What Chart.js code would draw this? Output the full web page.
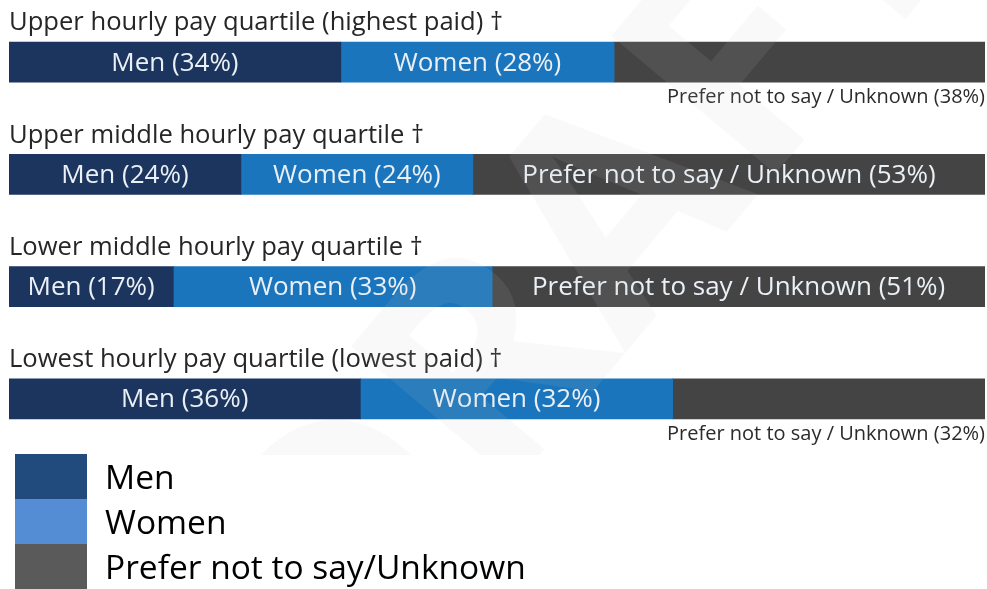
<!DOCTYPE html>
<html>
<head>
<meta charset="utf-8">
<script src="https://cdn.jsdelivr.net/npm/chart.js@4"></script>
<style>
  body { margin: 0; background: #fff; width: 987px; height: 589px; overflow: hidden; font-family: "Open Sans", sans-serif; }
  #wrap { position: absolute; left: 0; top: 0; width: 987px; height: 455px; }
  #legend { position: absolute; left: 15px; top: 454px; }
  .leg-row { display: flex; align-items: center; height: 45px; }
  .leg-box { width: 72px; height: 45px; }
  .leg-text { margin-left: 18px; font-size: 33.5px; color: #000; line-height: 45px; }
</style>
</head>
<body>
<div id="wrap"><canvas id="payChart"></canvas></div>
<div id="legend"></div>
<script>
// quartile titles, top to bottom
const quartiles = [
    "Upper hourly pay quartile (highest paid) \u2020",
    "Upper middle hourly pay quartile \u2020",
    "Lower middle hourly pay quartile \u2020",
    "Lowest hourly pay quartile (lowest paid) \u2020"
];
const seriesNames = ["Men", "Women", "Prefer not to say / Unknown"];
const legendNames = ["Men", "Women", "Prefer not to say/Unknown"];
// percentages as printed on the chart
const men = [34, 24, 17, 36];
const women = [28, 24, 33, 32];
const unknown = [38, 53, 51, 32];
// rows where the unknown label sits under the bar
const unknownBelow = [true, false, false, true];

const barColors = ["#1c355e", "#1b75bc", "#444444"];
const legendColors = ["#214a7d", "#548dd4", "#5a5a5a"];

// rows adding up to 101% get scaled so every bar fills the width
const totals = men.map((m, i) => m + women[i] + unknown[i]);
const share = arr => arr.map((v, i) => v / totals[i] * 100);
const raw = [men, women, unknown];

const labelPlugin = {
    id: "labels",
    afterDraw(chart) {
        const ctx = chart.ctx;
        const area = chart.chartArea;
        ctx.save();
        // quartile titles above bars
        const meta0 = chart.getDatasetMeta(0);
        ctx.font = "25.6px 'Open Sans'";
        ctx.fillStyle = "#262626";
        ctx.textAlign = "left";
        ctx.textBaseline = "middle";
        meta0.data.forEach((bar, i) => {
            ctx.fillText(quartiles[i], area.left, bar.y - bar.height / 2 - 19);
        });
        chart.data.datasets.forEach((ds, d) => {
            const meta = chart.getDatasetMeta(d);
            meta.data.forEach((bar, i) => {
                const txt = seriesNames[d] + " (" + raw[d][i] + "%)";
                if (d == 2 && unknownBelow[i]) {
                    ctx.font = "20px 'Open Sans'";
                    ctx.fillStyle = "#2b2b2b";
                    ctx.textAlign = "right";
                    ctx.fillText(txt, area.right, bar.y + bar.height / 2 + 15);
                } else {
                    ctx.font = "26px 'Open Sans'";
                    ctx.fillStyle = "#eaf0f6";
                    ctx.textAlign = "center";
                    ctx.fillText(txt, (bar.x + bar.base) / 2, bar.y + 1);
                }
            });
        });
        // faint draft watermark
        ctx.translate(600, 250);
        ctx.rotate(-50 * Math.PI / 180);
        ctx.font = "bold 300px 'Open Sans'";
        ctx.fillStyle = "rgba(200,200,200,0.1)";
        ctx.textAlign = "center";
        ctx.fillText("DRAFT", 0, 0);
        ctx.restore();
    }
};

new Chart(document.getElementById("payChart"), {
    type: "bar",
    data: {
        labels: quartiles,
        datasets: [0, 1, 2].map(d => ({
            label: seriesNames[d],
            data: share(raw[d]),
            backgroundColor: barColors[d],
            borderWidth: 0,
            barThickness: 40
        }))
    },
    options: {
        indexAxis: "y",
        responsive: true,
        maintainAspectRatio: false,
        animation: false,
        layout: { padding: { left: 9, right: 2, top: 6, bottom: 0 } },
        scales: {
            x: { stacked: true, min: 0, max: 100, display: false },
            y: { stacked: true, display: false }
        },
        plugins: {
            legend: { display: false },
            tooltip: { enabled: false }
        }
    },
    plugins: [labelPlugin]
});

let legend = document.getElementById("legend");
legendNames.forEach((name, i) => {
    legend.innerHTML += '<div class="leg-row"><div class="leg-box" style="background:' + legendColors[i]
        + '"></div><div class="leg-text">' + name + '</div></div>';
});
</script>
</body>
</html>
